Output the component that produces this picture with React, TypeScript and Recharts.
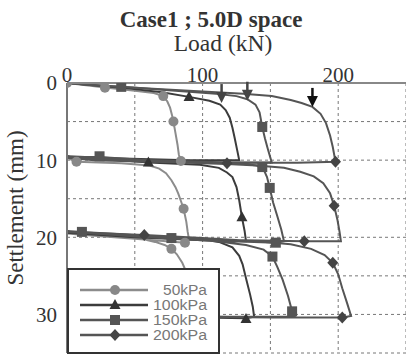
import React from 'react';
import { ComposedChart, Line, Scatter, XAxis, YAxis, CartesianGrid, Legend, ReferenceDot } from 'recharts';

// Load (kN) / Settlement (mm) paths for each surcharge, three loading cycles each
const loads50 = [0, 28, 50, 64, 71, 74, 76, 77.5, 78.5, 80, 81.5, 82.5, 84, 50, 20, 0, 7, 40, 61, 68, 73, 77, 80, 82, 84, 86, 88, 89, 90, 87, 50, 20, 0, 30, 55, 65, 72, 77, 81, 85, 88, 90, 92, 93, 60, 0];
const settle50 = [0, 0.6, 1.0, 1.3, 1.7, 2.4, 3.2, 4.2, 5.0, 6.5, 8.0, 9.3, 10.1, 10.0, 9.9, 9.7, 10.2, 10.4, 10.7, 11.1, 11.7, 12.6, 13.5, 14.3, 15.3, 16.3, 18.0, 19.3, 20.3, 20.7, 20.2, 19.8, 19.5, 19.8, 20.2, 20.6, 21.0, 21.5, 22.2, 23.3, 24.5, 26.5, 29.0, 30.5, 30.5, 30.4];
const markLoads50 = [0, 28, 71, 78.5, 84, 7, 86, 87, 77];
const markSettle50 = [0, 0.6, 1.7, 5.0, 10.1, 10.2, 16.3, 20.7, 21.5];

const loads100 = [0, 40, 70, 90, 105, 113, 117, 120, 122, 123.5, 125.5, 127, 90, 40, 0, 30, 60, 98, 112, 118, 122, 125, 127, 129, 131, 132, 100, 50, 0, 50, 98, 112, 122, 127, 129.5, 132, 135, 137, 138, 132, 100, 0];
const settle100 = [0, 0.6, 1.2, 1.8, 2.3, 2.8, 3.5, 4.5, 5.8, 7.0, 8.7, 10.0, 10.0, 9.8, 9.5, 9.9, 10.3, 10.6, 11.0, 11.6, 12.2, 13.5, 15.2, 17.4, 19.2, 20.5, 20.4, 20.0, 19.4, 19.8, 20.2, 20.6, 21.3, 22.4, 23.5, 25.3, 27.4, 29.0, 30.3, 30.5, 30.4, 30.3];
const markLoads100 = [90, 60, 129, 132];
const markSettle100 = [1.8, 10.3, 17.4, 30.6];

const loads150 = [0, 20, 40, 80, 110, 125, 133, 139, 142, 144, 146, 148, 151, 120, 80, 40, 0, 24, 60, 100, 130, 140, 145, 147.5, 149.5, 152, 155, 158, 160, 154, 100, 50, 0, 11, 40, 77, 110, 132, 145, 151.5, 155, 159, 163, 166, 168, 120, 60, 0];
const settle150 = [0, 0.3, 0.5, 1.0, 1.4, 1.7, 2.1, 2.8, 3.8, 5.7, 7.2, 8.5, 10.3, 10.3, 10.1, 9.9, 9.6, 9.6, 10.0, 10.3, 10.5, 10.7, 11.2, 12.2, 13.6, 15.5, 17.2, 19.0, 20.5, 20.7, 20.4, 19.9, 19.2, 19.3, 19.6, 20.1, 20.5, 21.0, 21.6, 22.5, 23.8, 25.5, 27.6, 29.6, 30.3, 30.3, 30.2, 30.1];
const markLoads150 = [40, 144, 24, 144, 149.5, 154, 11, 77, 151.5, 166];
const markSettle150 = [0.5, 5.7, 9.5, 10.9, 13.6, 20.7, 19.3, 20.1, 22.5, 29.6];

const loads200 = [0, 30, 60, 100, 130, 151, 165, 173, 181, 187, 191, 194, 196, 198, 170, 120, 60, 20, 0, 30, 60, 100, 118, 140, 160, 172, 182, 189, 194, 197, 199.5, 201, 202, 175, 130, 80, 30, 0, 30, 57, 100, 140, 165, 180, 190, 196, 200, 203, 206.5, 209.5, 203, 150, 100, 0];
const settle200 = [0, 0.4, 0.7, 1.1, 1.4, 1.7, 2.2, 2.6, 3.1, 4.0, 5.2, 6.8, 8.3, 10.2, 10.35, 10.35, 10.2, 10.0, 9.7, 9.9, 10.1, 10.4, 10.5, 10.7, 11.0, 11.5, 12.1, 13.0, 14.3, 15.9, 17.8, 19.3, 20.5, 20.5, 20.4, 20.1, 19.6, 19.3, 19.5, 19.7, 20.1, 20.5, 20.9, 21.5, 22.3, 23.3, 24.8, 26.6, 28.5, 30.2, 30.4, 30.4, 30.3, 30.2];
const markLoads200 = [198, 118, 197, 175, 57, 196, 203];
const markSettle200 = [10.2, 10.4, 15.9, 20.5, 19.7, 23.3, 30.4];

// ultimate-load arrows
const arrowLoads = [114, 133, 181];
const arrowSettle = [2.6, 2.3, 3.1];
const arrowColors = ['#444', '#444', '#111'];

const xTicks = [0, 50, 100, 150, 200, 250];
const yTicks = [0, 5, 10, 15, 20, 25, 30, 35];
const seriesNames = ['50kPa', '100kPa', '150kPa', '200kPa'];
const legendTextWidths = [44, 54, 54, 54];

const zip = (xs: number[], ys: number[]) => xs.map((x, i) => ({ x, y: ys[i] }));

type Shape = 'circle' | 'triangle' | 'square' | 'diamond';
const series = [
  { name: seriesNames[0], line: zip(loads50, settle50), marks: zip(markLoads50, markSettle50), color: '#8c8c8c', mark: '#888', shape: 'circle' as Shape },
  { name: seriesNames[1], line: zip(loads100, settle100), marks: zip(markLoads100, markSettle100), color: '#3c3c3c', mark: '#333', shape: 'triangle' as Shape },
  { name: seriesNames[2], line: zip(loads150, settle150), marks: zip(markLoads150, markSettle150), color: '#555', mark: '#555', shape: 'square' as Shape },
  { name: seriesNames[3], line: zip(loads200, settle200), marks: zip(markLoads200, markSettle200), color: '#555', mark: '#444', shape: 'diamond' as Shape },
];

const drawMarker = (shape: Shape, cx: number, cy: number, fill: string) => {
  if (shape === 'circle') return <circle cx={cx} cy={cy} r={5} fill={fill} />;
  if (shape === 'triangle') return <path d={`M${cx},${cy - 6}L${cx + 5.5},${cy + 4}L${cx - 5.5},${cy + 4}Z`} fill={fill} />;
  if (shape === 'square') return <rect x={cx - 5} y={cy - 5} width={10} height={10} fill={fill} />;
  return <path d={`M${cx},${cy - 6}L${cx + 5.5},${cy}L${cx},${cy + 6}L${cx - 5.5},${cy}Z`} fill={fill} />;
};

const LegendBox = () => (
  <div style={{ width: 149, height: 82, border: '2px solid #333', background: '#fff' }}>
    <svg width={149} height={82}>
      {series.map((s, i) => {
        const cy = 20 + i * 15;
        return (
          <g key={s.name}>
            <line x1={11} x2={79} y1={cy} y2={cy} stroke={s.color} strokeWidth={2.5} />
            {drawMarker(s.shape, 46, cy, s.mark)}
            <text
              x={138 - legendTextWidths[i]}
              y={cy + 5}
              textLength={legendTextWidths[i]}
              lengthAdjust="spacingAndGlyphs"
              fontSize={14}
              fill="#777"
              fontFamily='"Liberation Sans", Arial, sans-serif'
            >
              {s.name}
            </text>
          </g>
        );
      })}
    </svg>
  </div>
);

const tickStyle = { fontSize: 21, fill: '#333', fontFamily: '"Liberation Serif", "Times New Roman", serif' };

export default function App() {
  return (
    <div style={{ position: 'absolute', left: 0, top: 0, width: 406, height: 356, background: '#fff', overflow: 'hidden' }}>
      <div style={{ position: 'absolute', left: 8, top: 10, width: 406, textAlign: 'center', fontFamily: '"Liberation Serif", serif', fontWeight: 'bold', fontSize: 23, lineHeight: '20px', color: '#333' }}>
        Case1 ; 5.0D space
      </div>
      <div style={{ position: 'absolute', left: 123, top: 33, width: 200, textAlign: 'center', fontFamily: '"Liberation Serif", serif', fontSize: 23.5, lineHeight: '20px', color: '#333' }}>
        Load (kN)
      </div>
      <div style={{ position: 'absolute', left: -84, top: 196, width: 200, height: 24, textAlign: 'center', fontFamily: '"Liberation Serif", serif', fontSize: 23, lineHeight: '24px', color: '#333', transform: 'rotate(-90deg)' }}>
        Settlement (mm)
      </div>
      <ComposedChart width={406} height={356} margin={{ top: 53, right: 0, bottom: 3, left: 0 }}>
        <CartesianGrid stroke="#777" strokeDasharray="3 3" />
        <XAxis
          dataKey="x"
          type="number"
          orientation="top"
          domain={[0, 250]}
          ticks={xTicks}
          tickFormatter={(v: number) => (v % 100 === 0 && v <= 200 ? String(v) : '')}
          height={30}
          tickSize={0}
          tickMargin={1}
          tick={tickStyle}
          axisLine={{ stroke: '#888', strokeWidth: 2 }}
          allowDataOverflow
        />
        <YAxis
          dataKey="y"
          type="number"
          reversed
          domain={[0, 35]}
          ticks={yTicks}
          tickFormatter={(v: number) => (v % 10 === 0 && v <= 30 ? String(v) : '')}
          width={67}
          tickSize={0}
          tickMargin={10}
          tick={tickStyle}
          axisLine={{ stroke: '#777', strokeWidth: 2 }}
          allowDataOverflow
        />
        {series.map((s) => (
          <Line
            key={'l' + s.name}
            data={s.line}
            dataKey="y"
            type="linear"
            stroke={s.color}
            strokeWidth={2}
            dot={false}
            activeDot={false}
            isAnimationActive={false}
            legendType="none"
          />
        ))}
        {series.map((s) => (
          <Scatter
            key={'m' + s.name}
            data={s.marks}
            dataKey="y"
            isAnimationActive={false}
            legendType="none"
            shape={(p: any) => drawMarker(s.shape, p.cx, p.cy, s.mark)}
          />
        ))}
        {arrowLoads.map((x, i) => (
          <ReferenceDot
            key={'a' + i}
            x={x}
            y={arrowSettle[i]}
            shape={(p: any) => (
              <g>
                <line x1={p.cx} x2={p.cx} y1={p.cy - 19} y2={p.cy - 8} stroke={arrowColors[i]} strokeWidth={2.5} />
                <path d={`M${p.cx - 5.5},${p.cy - 11}L${p.cx + 5.5},${p.cy - 11}L${p.cx},${p.cy}Z`} fill={arrowColors[i]} />
              </g>
            )}
          />
        ))}
        <Legend
          layout="horizontal"
          verticalAlign="middle"
          align="center"
          content={() => <LegendBox />}
          wrapperStyle={{ position: 'absolute', left: 67, top: 268, width: 153, height: 86 }}
        />
      </ComposedChart>
    </div>
  );
}
